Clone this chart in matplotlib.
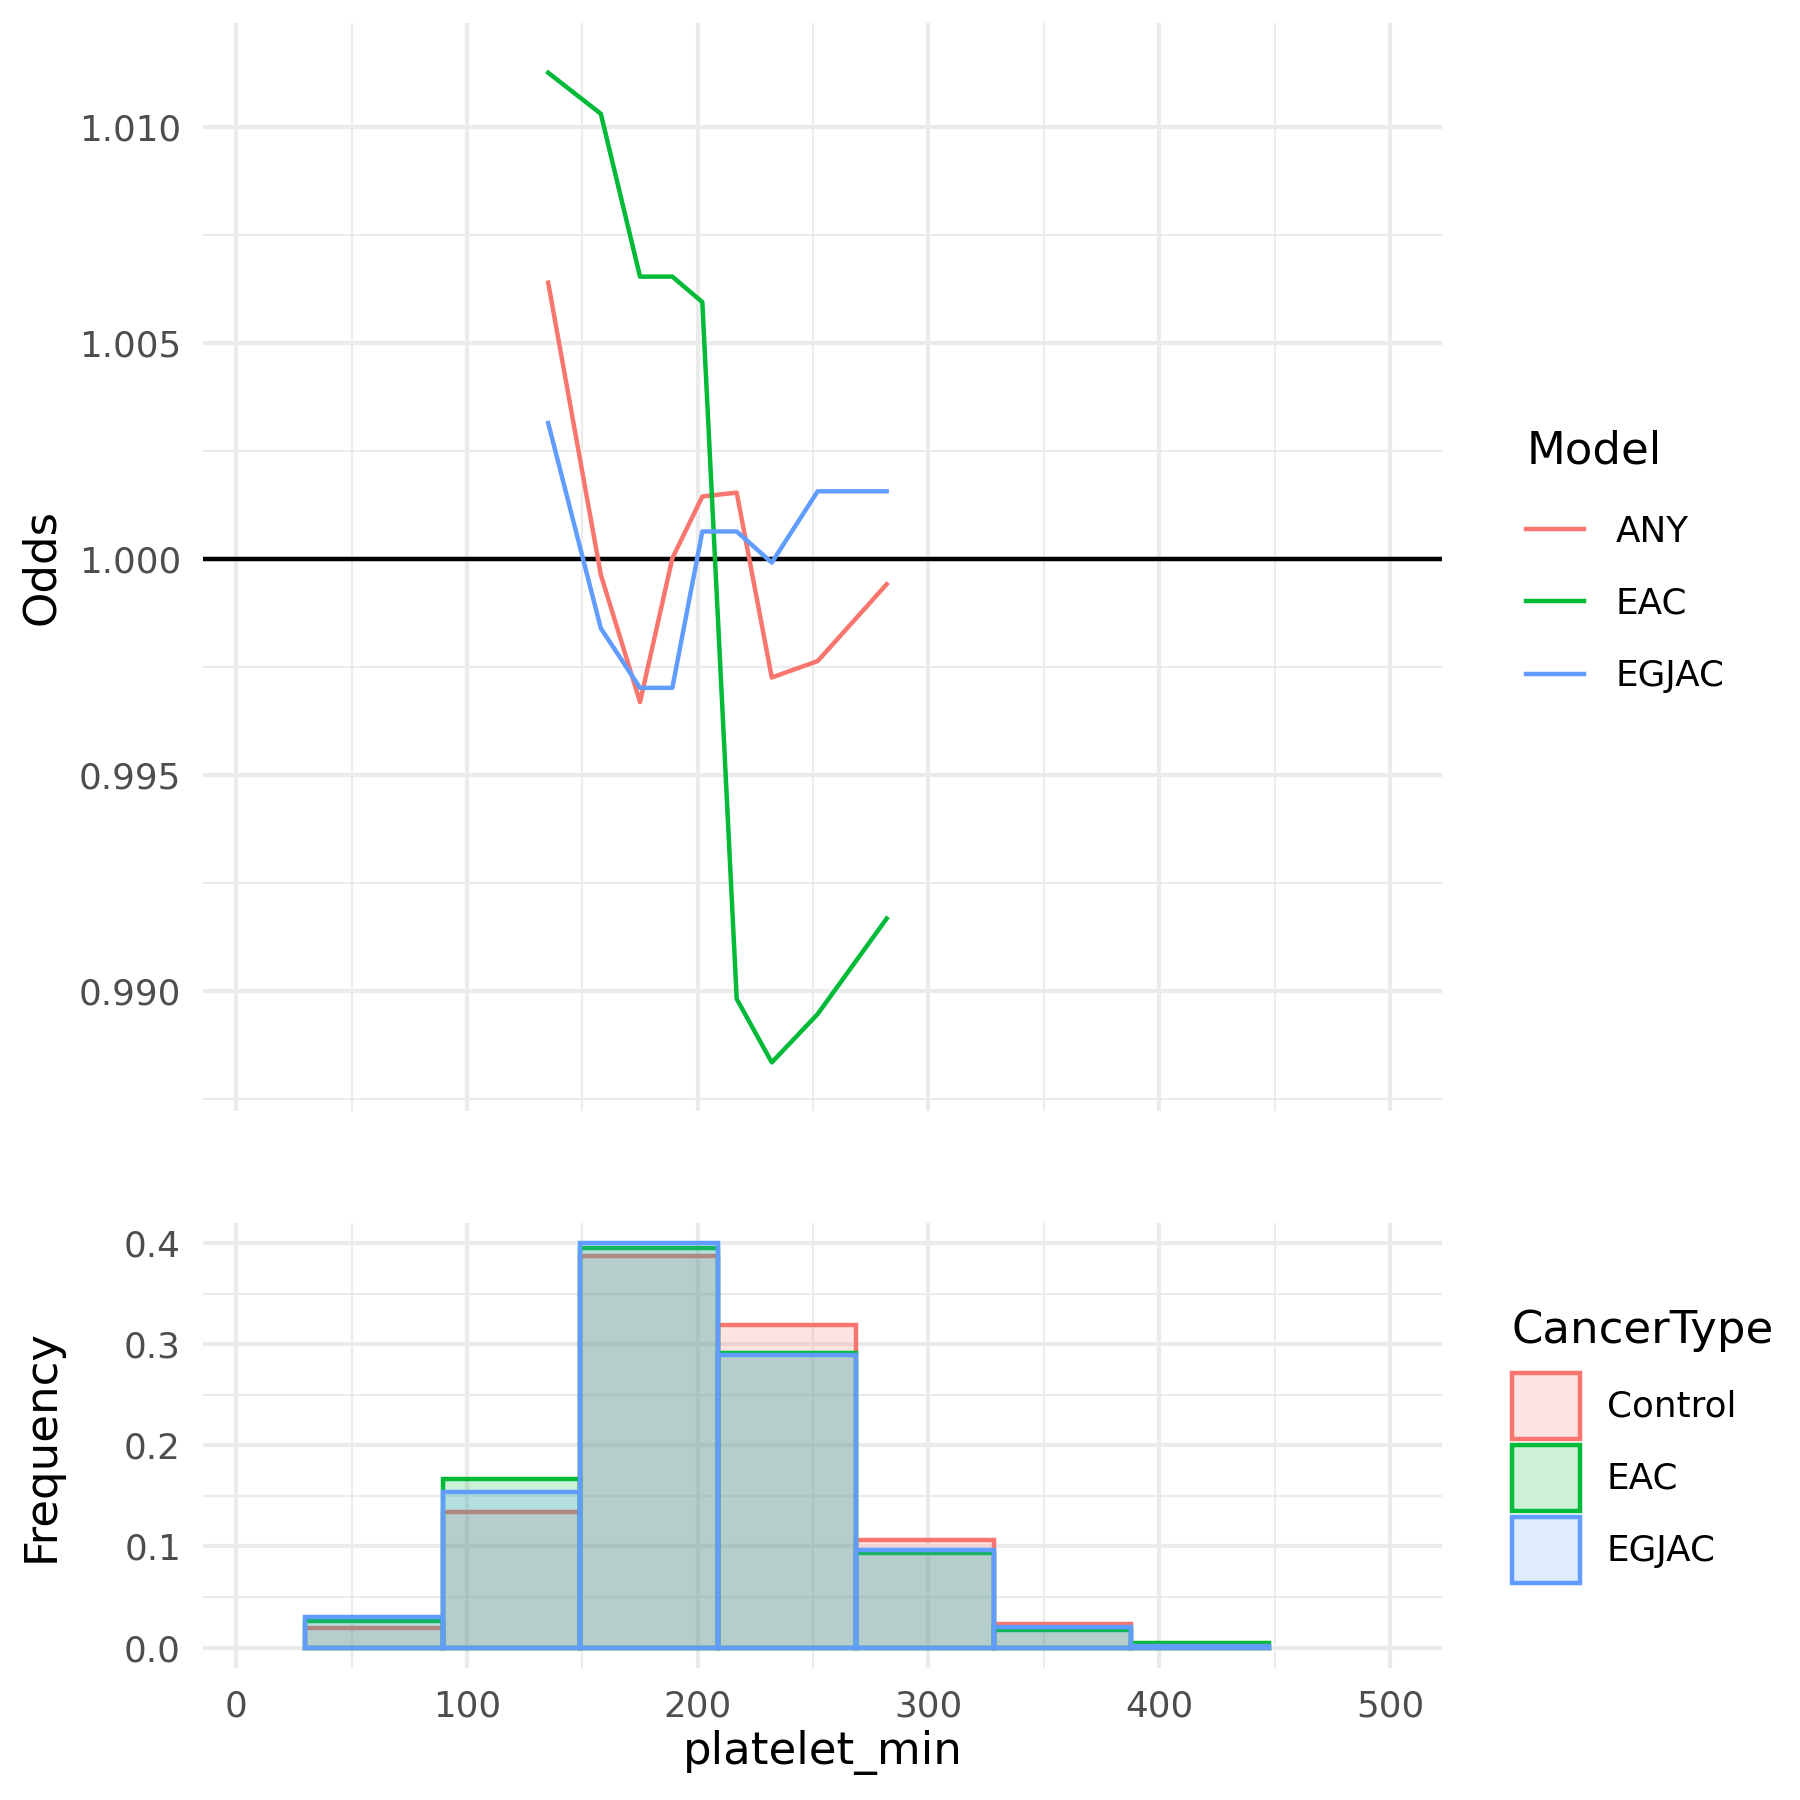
import matplotlib
matplotlib.use('Agg')
import matplotlib.pyplot as plt
from matplotlib.ticker import MultipleLocator, FormatStrFormatter
from matplotlib.colors import to_rgba
import numpy as np

plt.rcParams['font.family'] = ['DejaVu Sans']

# ---- data: odds by platelet_min for each model ----
models = ['ANY', 'EAC', 'EGJAC']
platelet_x = [135.2, 158.0, 175.0, 189.0, 202.0, 216.9, 232.1, 252.0, 281.9]
odds_any = [1.00640, 0.99964, 0.99669, 1.00002, 1.00145, 1.00154, 0.99726, 0.99764, 0.99942]
odds_eac = [1.01126, 1.01031, 1.00654, 1.00654, 1.00595, 0.98982, 0.98835, 0.98947, 0.99168]
odds_egjac = [1.00315, 0.99840, 0.99702, 0.99702, 1.00064, 1.00064, 0.99992, 1.00157, 1.00157]

# ---- data: histogram frequencies by cancer type ----
cancer_types = ['Control', 'EAC', 'EGJAC']
bin_edges = [29.7, 89.4, 149.1, 208.8, 268.5, 328.2, 387.9, 447.6]
freq_control = [0.0192, 0.1336, 0.3874, 0.3187, 0.1068, 0.0231, 0.0010]
freq_eac = [0.0264, 0.1663, 0.3947, 0.2909, 0.0939, 0.0172, 0.0050]
freq_egjac = [0.0307, 0.1537, 0.3998, 0.2893, 0.0969, 0.0205, 0.0017]

colors = ['#F8766D', '#00BA38', '#619CFF']

TICK_FS = 8.6
TITLE_FS = 10.8
LW = 1.07

fig = plt.figure(figsize=(6, 6), dpi=300)
fig.patch.set_facecolor('white')
ax1 = fig.add_axes([0.1128, 0.3829, 0.6882, 0.6043])
ax2 = fig.add_axes([0.1128, 0.0735, 0.6882, 0.2471])


def style(ax):
    ax.set_facecolor('white')
    for s in ax.spines.values():
        s.set_visible(False)
    ax.set_axisbelow(True)
    ax.grid(True, which='major', color='#EBEBEB', linewidth=1.0)
    ax.grid(True, which='minor', color='#EBEBEB', linewidth=0.5)
    ax.tick_params(which='both', length=0, labelsize=TICK_FS,
                   labelcolor='#4D4D4D', pad=5.3)
    ax.set_xlim(-14.4, 522.5)
    ax.xaxis.set_major_locator(MultipleLocator(100))
    ax.xaxis.set_minor_locator(MultipleLocator(50))


style(ax1)
style(ax2)

# top panel
ax1.axhline(1.0, color='black', linewidth=LW, zorder=1.5)
for vals, c, m in zip([odds_any, odds_eac, odds_egjac], colors, models):
    ax1.plot(platelet_x, vals, color=c, linewidth=LW, label=m, zorder=2)
ax1.set_ylim(0.98723, 1.01241)
ax1.yaxis.set_major_locator(MultipleLocator(0.005))
ax1.yaxis.set_minor_locator(MultipleLocator(0.0025))
ax1.yaxis.set_major_formatter(FormatStrFormatter('%.3f'))
ax1.tick_params(labelbottom=False)
ax1.set_ylabel('Odds', fontsize=TITLE_FS, color='black')
ax1.yaxis.set_label_coords(-0.113, 0.5)

# bottom panel
lefts = bin_edges[:-1]
widths = np.diff(bin_edges)
for freq, c, name in zip([freq_control, freq_eac, freq_egjac], colors, cancer_types):
    ax2.bar(lefts, freq, width=widths, align='edge',
            facecolor=to_rgba(c, 0.2), edgecolor=c, linewidth=LW, label=name)
ax2.set_ylim(-0.0198, 0.4198)
ax2.yaxis.set_major_locator(MultipleLocator(0.1))
ax2.yaxis.set_minor_locator(MultipleLocator(0.05))
ax2.yaxis.set_major_formatter(FormatStrFormatter('%.1f'))
ax2.set_ylabel('Frequency', fontsize=TITLE_FS, color='black')
ax2.yaxis.set_label_coords(-0.113, 0.5)
ax2.set_xlabel('platelet_min', fontsize=TITLE_FS, color='black')
ax2.xaxis.set_label_coords(0.5, -0.140)

# legends
leg1 = ax1.legend(title='Model', loc='center left', bbox_to_anchor=(0.848, 0.688),
                  bbox_transform=fig.transFigure, frameon=False, fontsize=TICK_FS,
                  title_fontsize=TITLE_FS, handlelength=1.61, handletextpad=0.87,
                  labelspacing=1.07, borderpad=0, borderaxespad=0, alignment='left')
leg2 = ax2.legend(title='CancerType', loc='center left', bbox_to_anchor=(0.8398, 0.1968),
                  bbox_transform=fig.transFigure, frameon=False, fontsize=TICK_FS,
                  title_fontsize=TITLE_FS, handlelength=1.9, handleheight=2.44,
                  handletextpad=0.75, labelspacing=0.18, borderpad=0, borderaxespad=0,
                  alignment='left')
# gap between legend title and first key (points)
try:
    leg1._legend_box.sep = 10.0
    leg2._legend_box.sep = 5.15
except Exception:
    pass

fig.savefig('out.png', dpi=300, facecolor='white')
